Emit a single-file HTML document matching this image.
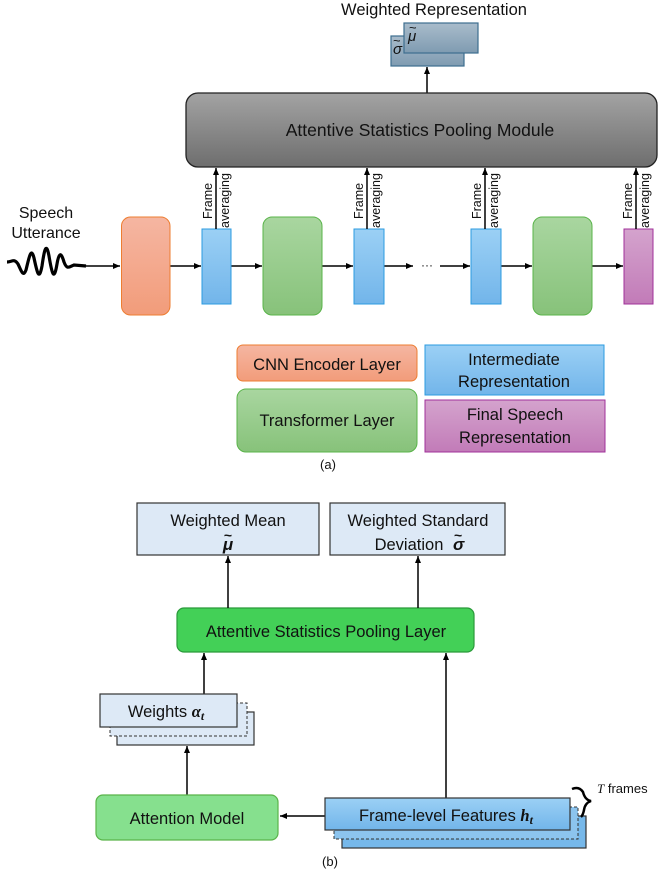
<!DOCTYPE html>
<html><head><meta charset="utf-8"><style>
html,body{margin:0;padding:0;background:#fff}
svg{display:block}
text{font-family:"Liberation Sans",sans-serif;fill:#111}
</style></head><body>
<svg width="658" height="873" viewBox="0 0 658 873" xmlns="http://www.w3.org/2000/svg">
<defs>
<marker id="ar" markerWidth="8" markerHeight="8" refX="7" refY="4" orient="auto" markerUnits="userSpaceOnUse"><path d="M0,1 L7,4 L0,7 Z" fill="#000"/></marker>
<linearGradient id="gray" x1="0" y1="0" x2="0" y2="1"><stop offset="0" stop-color="#a3a3a3"/><stop offset="1" stop-color="#6e6e6e"/></linearGradient>
<linearGradient id="steel" x1="0" y1="0" x2="0" y2="1"><stop offset="0" stop-color="#a9bccb"/><stop offset="1" stop-color="#7f9bb1"/></linearGradient>
<linearGradient id="org" x1="0" y1="0" x2="0" y2="1"><stop offset="0" stop-color="#f5b6a2"/><stop offset="1" stop-color="#f29c7a"/></linearGradient>
<linearGradient id="blu" x1="0" y1="0" x2="0" y2="1"><stop offset="0" stop-color="#9bd0f5"/><stop offset="1" stop-color="#72b5ea"/></linearGradient>
<linearGradient id="grn" x1="0" y1="0" x2="0" y2="1"><stop offset="0" stop-color="#a9d6a0"/><stop offset="1" stop-color="#87c27a"/></linearGradient>
<linearGradient id="pur" x1="0" y1="0" x2="0" y2="1"><stop offset="0" stop-color="#d4a3cd"/><stop offset="1" stop-color="#c27bb8"/></linearGradient>
</defs>

<text x="434" y="15" font-size="16.5" text-anchor="middle">Weighted Representation</text>
<rect x="391" y="36" width="73" height="30" fill="url(#steel)" stroke="#3d6e8f" stroke-width="1.2"/>
<rect x="404" y="23" width="74" height="30" fill="url(#steel)" stroke="#3d6e8f" stroke-width="1.2"/>
<text x="393" y="54" font-size="15" font-family="Liberation Serif" font-style="italic">σ</text>
<text x="393" y="45" font-size="13" font-family="Liberation Serif">~</text>
<text x="408" y="41" font-size="15" font-family="Liberation Serif" font-style="italic">μ</text>
<text x="409" y="32" font-size="13" font-family="Liberation Serif">~</text>
<line x1="427" y1="93" x2="427" y2="67" stroke="#000" stroke-width="1.5" marker-end="url(#ar)"/>

<rect x="186" y="93" width="471" height="74" rx="12" fill="url(#gray)" stroke="#222" stroke-width="1.3"/>
<text x="420" y="136" font-size="17.5" text-anchor="middle">Attentive Statistics Pooling Module</text>

<text x="46" y="218" font-size="16" text-anchor="middle">Speech</text>
<text x="46" y="238" font-size="16" text-anchor="middle">Utterance</text>
<path d="M7,262 C12,262 14,258 18,264 C21,270 23,278 26,270 C29,258 31,246 34,258 C37,272 39,282 42,266 C44,252 46,240 49,256 C52,274 54,282 57,264 C59,252 61,252 64,262 C67,270 69,267 74,265 L86,266" fill="none" stroke="#000" stroke-width="3.2"/>

<g stroke="#000" stroke-width="1.5" fill="none">
<line x1="86" y1="266" x2="120" y2="266" marker-end="url(#ar)"/>
<line x1="170" y1="266" x2="201" y2="266" marker-end="url(#ar)"/>
<line x1="231" y1="266" x2="262" y2="266" marker-end="url(#ar)"/>
<line x1="322" y1="266" x2="353" y2="266" marker-end="url(#ar)"/>
<line x1="384" y1="266" x2="413" y2="266" marker-end="url(#ar)"/>
<line x1="440" y1="266" x2="470" y2="266" marker-end="url(#ar)"/>
<line x1="501" y1="266" x2="532" y2="266" marker-end="url(#ar)"/>
<line x1="592" y1="266" x2="623" y2="266" marker-end="url(#ar)"/>
</g>
<text x="427" y="269" font-size="12" text-anchor="middle">···</text>

<rect x="121.5" y="217" width="48.5" height="98" rx="9" fill="url(#org)" stroke="#ed7d31" stroke-width="1"/>
<rect x="202" y="229" width="29" height="75" fill="url(#blu)" stroke="#2b9be0" stroke-width="1"/>
<rect x="263" y="217" width="59" height="98" rx="9" fill="url(#grn)" stroke="#5ab44a" stroke-width="1"/>
<rect x="354" y="229" width="30" height="75" fill="url(#blu)" stroke="#2b9be0" stroke-width="1"/>
<rect x="471" y="229" width="30" height="75" fill="url(#blu)" stroke="#2b9be0" stroke-width="1"/>
<rect x="533" y="217" width="59" height="98" rx="9" fill="url(#grn)" stroke="#5ab44a" stroke-width="1"/>
<rect x="624" y="229" width="29" height="75" fill="url(#pur)" stroke="#a0309a" stroke-width="1"/>

<g stroke="#000" stroke-width="1.5">
<line x1="216" y1="229" x2="216" y2="168" marker-end="url(#ar)"/>
<line x1="367" y1="229" x2="367" y2="168" marker-end="url(#ar)"/>
<line x1="485" y1="229" x2="485" y2="168" marker-end="url(#ar)"/>
<line x1="636" y1="229" x2="636" y2="168" marker-end="url(#ar)"/>
</g>
<g font-size="12.5">
<text transform="translate(212,219) rotate(-90)">Frame</text>
<text transform="translate(229,228) rotate(-90)">averaging</text>
<text transform="translate(363,219) rotate(-90)">Frame</text>
<text transform="translate(380,228) rotate(-90)">averaging</text>
<text transform="translate(481,219) rotate(-90)">Frame</text>
<text transform="translate(498,228) rotate(-90)">averaging</text>
<text transform="translate(632,219) rotate(-90)">Frame</text>
<text transform="translate(649,228) rotate(-90)">averaging</text>
</g>

<rect x="237" y="345" width="180" height="36" rx="6" fill="url(#org)" stroke="#ed7d31"/>
<text x="327" y="370" font-size="16.5" text-anchor="middle">CNN Encoder Layer</text>
<rect x="425" y="345" width="179" height="50" fill="url(#blu)" stroke="#2b9be0"/>
<text x="514" y="365" font-size="16.5" text-anchor="middle">Intermediate</text>
<text x="514" y="387" font-size="16.5" text-anchor="middle">Representation</text>
<rect x="237" y="389" width="180" height="63" rx="9" fill="url(#grn)" stroke="#5ab44a"/>
<text x="327" y="426" font-size="16.5" text-anchor="middle">Transformer Layer</text>
<rect x="425" y="400" width="180" height="52" fill="url(#pur)" stroke="#a0309a"/>
<text x="515" y="420" font-size="16.5" text-anchor="middle">Final Speech</text>
<text x="515" y="443" font-size="16.5" text-anchor="middle">Representation</text>
<text x="328" y="469" font-size="13" text-anchor="middle">(a)</text>

<rect x="137" y="503" width="182" height="52" fill="#dde9f6" stroke="#333" stroke-width="1.2"/>
<text x="228" y="526" font-size="16.5" text-anchor="middle">Weighted Mean</text>
<text x="228" y="550" font-size="17" text-anchor="middle" font-family="Liberation Serif" font-weight="bold" font-style="italic">μ</text>
<text x="228" y="540" font-size="14" text-anchor="middle" font-family="Liberation Serif" font-weight="bold">~</text>
<rect x="330" y="503" width="175" height="52" fill="#dde9f6" stroke="#333" stroke-width="1.2"/>
<text x="418" y="526" font-size="16.5" text-anchor="middle">Weighted Standard</text>
<text x="409" y="550" font-size="16.5" text-anchor="middle">Deviation</text>
<text x="453" y="550" font-size="17" font-family="Liberation Serif" font-weight="bold" font-style="italic">σ</text>
<text x="454" y="540" font-size="14" font-family="Liberation Serif" font-weight="bold">~</text>

<rect x="177" y="608" width="297" height="44" rx="7" fill="#43d057" stroke="#2a9a3a" stroke-width="1.2"/>
<text x="326" y="637" font-size="16.5" text-anchor="middle">Attentive Statistics Pooling Layer</text>
<g stroke="#000" stroke-width="1.5">
<line x1="228" y1="608" x2="228" y2="556" marker-end="url(#ar)"/>
<line x1="418" y1="608" x2="418" y2="556" marker-end="url(#ar)"/>
<line x1="204" y1="694" x2="204" y2="653" marker-end="url(#ar)"/>
<line x1="446" y1="798" x2="446" y2="653" marker-end="url(#ar)"/>
<line x1="187" y1="795" x2="187" y2="746" marker-end="url(#ar)"/>
<line x1="325" y1="816" x2="280" y2="816" marker-end="url(#ar)"/>
</g>

<rect x="117" y="712" width="137" height="33" fill="#dde9f6" stroke="#333" stroke-width="1.2"/>
<rect x="110" y="703" width="137" height="33" fill="#dde9f6" stroke="#333" stroke-width="1" stroke-dasharray="3,2"/>
<rect x="100" y="694" width="137" height="33" fill="#dde9f6" stroke="#333" stroke-width="1.2"/>
<text x="166" y="717" font-size="16.5" text-anchor="middle">Weights <tspan font-family="Liberation Serif" font-weight="bold" font-style="italic">α<tspan font-size="12" dy="3">t</tspan></tspan></text>

<rect x="96" y="795" width="182" height="45" rx="7" fill="#86e08e" stroke="#5ab44a" stroke-width="1.2"/>
<text x="187" y="824" font-size="16.5" text-anchor="middle">Attention Model</text>

<rect x="342" y="816" width="244" height="32" fill="#76b8ea" stroke="#333" stroke-width="1.2"/>
<rect x="334" y="807" width="244" height="32" fill="#8cc4ee" stroke="#333" stroke-width="1" stroke-dasharray="3,2"/>
<rect x="325" y="798" width="245" height="32" fill="url(#blu)" stroke="#333" stroke-width="1.2"/>
<text x="446" y="821" font-size="16.5" text-anchor="middle">Frame-level Features <tspan font-family="Liberation Serif" font-weight="bold" font-style="italic">h<tspan font-size="12" dy="3">t</tspan></tspan></text>
<path d="M572,789 Q579,786 583,792 Q585,800 591,801 Q585,803 584,810 Q583,815 581,817" fill="none" stroke="#000" stroke-width="2.5"/>
<text x="597" y="793" font-size="13"><tspan font-family="Liberation Serif" font-style="italic">T</tspan> frames</text>
<text x="330" y="866" font-size="13" text-anchor="middle">(b)</text>
</svg>
</body></html>
